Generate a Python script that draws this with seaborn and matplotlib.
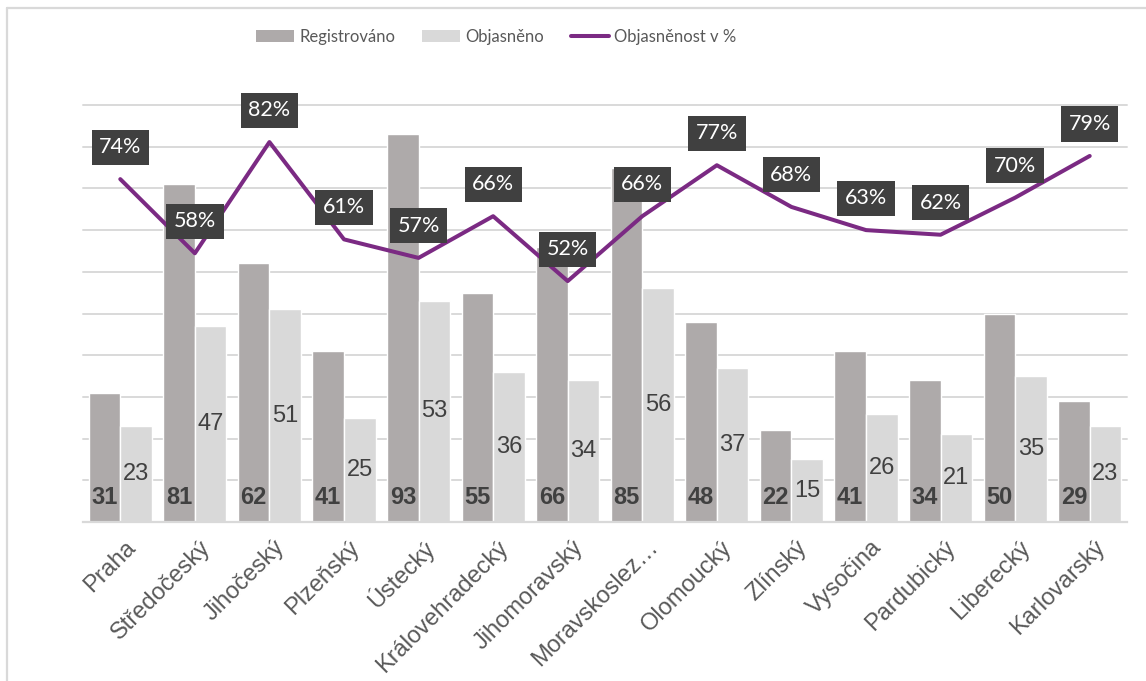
import numpy as np
import pandas as pd
import matplotlib
matplotlib.use("Agg")
import matplotlib.pyplot as plt
import seaborn as sns
from matplotlib.lines import Line2D
from matplotlib.patches import Patch
import matplotlib.transforms as mtrans

# ---- data ----
regions = ["Praha", "Středočeský", "Jihočeský", "Plzeňský", "Ústecký",
           "Královehradecký", "Jihomoravský", "Moravskoslez…", "Olomoucký",
           "Zlínský", "Vysočina", "Pardubický", "Liberecký", "Karlovarský"]
registrovano = [31, 81, 62, 41, 93, 55, 66, 85, 48, 22, 41, 34, 50, 29]
objasneno = [23, 47, 51, 25, 53, 36, 34, 56, 37, 15, 26, 21, 35, 23]
objasnenost = [74, 58, 82, 61, 57, 66, 52, 66, 77, 68, 63, 62, 70, 79]
series_names = ["Registrováno", "Objasněno", "Objasněnost v %"]

C_REG = "#AEAAAA"
C_OBJ = "#D9D9D9"
C_LINE = "#7B2A83"
C_BOX = "#404040"
C_TXT = "#595959"
C_GRID = "#D9D9D9"

sns.set_theme(style="white")
plt.rcParams['font.family'] = ['Liberation Sans', 'DejaVu Sans']

n = len(regions)
df = pd.DataFrame({
    "Kraj": regions * 2,
    "Počet": registrovano + objasneno,
    "Série": [series_names[0]] * n + [series_names[1]] * n,
})

W, H = 1146, 681
fig = plt.figure(figsize=(W / 100, H / 100), dpi=100)
fig.patch.set_facecolor("white")
ax = fig.add_axes([83 / W, 1 - 522 / H, (1127 - 83) / W, (522 - 105) / H])

sns.barplot(data=df, x="Kraj", y="Počet", hue="Série",
            palette=[C_REG, C_OBJ], width=0.845, gap=0, dodge=True,
            saturation=1, ax=ax, legend=False, errorbar=None)

# line on secondary axis
ax2 = ax.twinx()
sns.lineplot(x=regions, y=objasnenost, sort=False, ax=ax2, color=C_LINE,
             lw=2.9, legend=False)

ax.set_xlim(-0.5, n - 0.5)
ax.set_ylim(0, 100)
ax2.set_ylim(0, 90)
ax.set_yticks(np.arange(0, 101, 10))
ax.set_axisbelow(True)
ax.yaxis.grid(True, color=C_GRID, lw=1.4, clip_on=False)
ax.xaxis.grid(False)
for a in (ax, ax2):
    a.yaxis.set_tick_params(which='both', length=0, width=0, left=False,
                            right=False, labelleft=False, labelright=False)
ax.set_xlabel("")
ax.set_ylabel("")
ax2.set_ylabel("")
ax2.grid(False)
for s in ["top", "right", "left"]:
    ax.spines[s].set_visible(False)
for s in ax2.spines.values():
    s.set_visible(False)
ax.spines["bottom"].set_color(C_GRID)
ax.spines["bottom"].set_linewidth(1.6)

ax.set_xticks(range(n))
ax.set_xticklabels(regions, rotation=45, ha='right', va='center',
                   rotation_mode='anchor', fontsize=17, color=C_TXT)
ax.tick_params(axis='x', length=0, pad=16)
off = mtrans.ScaledTranslation(12 / 100, 0, fig.dpi_scale_trans)
for lab in ax.get_xticklabels():
    lab.set_transform(lab.get_transform() + off)

# bar value labels
cont_reg, cont_obj = ax.containers[0], ax.containers[1]
for bar, val in zip(cont_reg, registrovano):
    x = bar.get_x() + bar.get_width() / 2
    ax.annotate(f"{val}", (x, 0), xytext=(0, 25), textcoords='offset pixels',
                ha='center', va='center', fontsize=17, fontweight='bold',
                color=C_BOX)
for bar, val in zip(cont_obj, objasneno):
    x = bar.get_x() + bar.get_width() / 2
    ax.text(x, bar.get_height() / 2, f"{val}", ha='center', va='center',
            fontsize=17, color=C_BOX)

for i, p in enumerate(objasnenost):
    ax2.annotate(f"{p}%", (i, p), xytext=(0, 32), textcoords='offset pixels',
                 ha='center', va='center', color='white', fontsize=15.5,
                 family=['Lato', 'DejaVu Sans'],
                 bbox=dict(boxstyle='square,pad=0.35', fc=C_BOX, ec='none'))

# legend
handles = [Patch(fc=C_REG, ec='none'), Patch(fc=C_OBJ, ec='none'),
           Line2D([], [], color=C_LINE, lw=2.9)]
fig.legend(handles, series_names, loc='center',
           bbox_to_anchor=(496 / W, 1 - 37 / H), ncol=3, frameon=False,
           prop={'family': ['Lato', 'DejaVu Sans'], 'size': 12},
           handlelength=2.3, handleheight=0.7, handletextpad=0.3,
           columnspacing=1.6, labelcolor=C_TXT)

# chart frame
fig.add_artist(Line2D([7 / W, 1.0], [1 - 8 / H, 1 - 8 / H],
                      color=C_GRID, lw=1.6, transform=fig.transFigure))
fig.add_artist(Line2D([7 / W, 7 / W], [0, 1 - 8 / H],
                      color=C_GRID, lw=1.6, transform=fig.transFigure))

fig.savefig("out.png", dpi=100, facecolor="white")
